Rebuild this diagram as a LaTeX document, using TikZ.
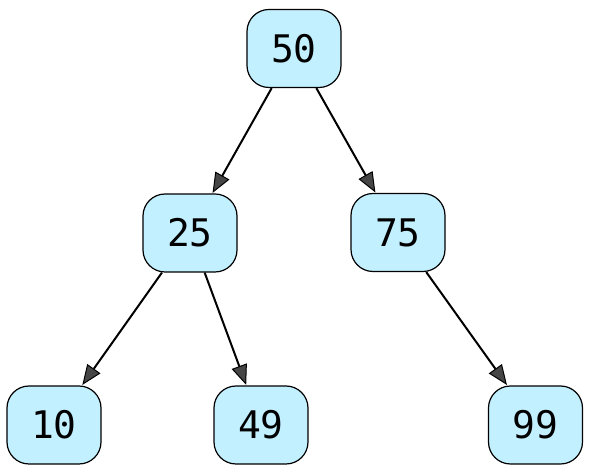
\documentclass[tikz,border=0pt]{standalone}
\usepackage{fontspec}
\setmonofont{DejaVu Sans Mono}
\usetikzlibrary{arrows.meta}
\definecolor{nodefill}{RGB}{195,240,255}
\definecolor{tipfill}{RGB}{70,70,70}
\begin{document}
\begin{tikzpicture}[x=1pt,y=1pt,
  treenode/.style={draw=black, line width=1.2pt, fill=nodefill, rounded corners=22pt,
    minimum width=94pt, minimum height=78pt, inner sep=0pt,
    font=\fontsize{38}{38}\selectfont\ttfamily},
  edge/.style={line width=2pt, -{Triangle[length=20pt,width=16pt,fill=tipfill,line width=1pt]}, shorten >=0.5pt}]
\useasboundingbox (0,0) rectangle (590,474);
\node[treenode] (n50) at (294,425.5) {50};
\node[treenode] (n25) at (190,241) {25};
\node[treenode] (n75) at (398,241.5) {75};
\node[treenode] (n10) at (54,49) {10};
\node[treenode] (n49) at (261,49) {49};
\node[treenode] (n99) at (535.5,49) {99};
\draw[edge] (n50) -- (n25);
\draw[edge] (n50) -- (n75);
\draw[edge] (n25) -- (n10);
\draw[edge] (n25) -- (n49);
\draw[edge] (n75) -- (n99);
\end{tikzpicture}
\end{document}
